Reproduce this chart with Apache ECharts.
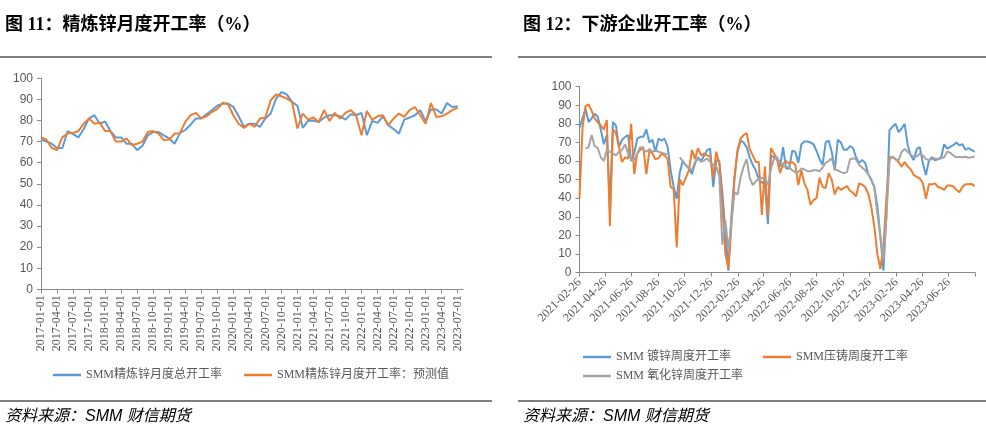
<!DOCTYPE html>
<html><head><meta charset="utf-8">
<script src="https://cdn.jsdelivr.net/npm/echarts@6/dist/echarts.min.js"></script>
<style>html,body{margin:0;padding:0;background:#fff}#c{width:986px;height:440px}</style>
</head><body><div id="c"></div>
<script>
// ---- Left chart: monthly refined zinc operating rate (%) ----
const refinedActual = [71,70,69,67,67,75,73.5,72,76,81,
82.5,78.5,79.5,75,72,72,69,69,66,68,
73,74.5,74.5,73,71.5,69,74,75.5,78,81,
81,83,85,87,88,88,86.5,82,77,78.5,
78.5,77,81,83.3,90.4,93.5,92.4,88.8,87,76.5,
79.8,80,79.3,81.4,82.5,82.5,82,80.4,83,82.5,
83.6,73,79.8,78.9,82,77.8,76,73.8,80.4,81.4,
82.5,84.9,79.7,85.2,85.2,83.3,88.3,86.4,86.8];
const refinedForecast = [72,71,67,66,72,74,74,75,78.5,81,
78.5,79,75,75,70,70,71.5,68.3,69,70,
74.6,75,73.8,70.7,71,73.8,74,79.3,82.5,83.6,
81,82,84,85.5,88.3,87.7,82.5,78.5,76.5,78.5,
77,80.9,81.4,89.6,92.3,91.5,90.4,88.8,76.2,83.3,
80.4,81.4,79.3,84.9,79.8,83.6,80.9,83.6,84.9,82.5,
73,84.5,80.4,82,82.5,77.8,80.9,83.3,81.7,84.9,
86.4,82.5,78.5,88.3,81.7,82,83.3,84.9,86.1];
// month categories 2017-01-01 ... 2023-08-01
const monthCats = [];
for (let y = 2017; y <= 2023; y++) {
  for (let m = 1; m <= 12; m++) {
    if (y === 2023 && m > 8) break;
    monthCats.push(y + '-' + String(m).padStart(2, '0') + '-01');
  }
}

// ---- Right chart: weekly downstream operating rates (%), weekly from 2021-02-26 ----
const galvanizing = [78,83,88,81,83,85.5,84,77,69,74,
35,81,79,67.6,71.5,73,74,60,64,72,
73,73,77,70,71.5,65,72,71,72,67.6,
55,46,39.6,54,60,57.7,56,53,58.6,62,
60,63,65.8,66.7,46,60.5,60,43,22,1,
31,51,65,71,70,67.5,62,58,55,50,
48.5,47.5,26,63,62,61,57,67.5,56,56,
65.5,65,59,69,70.5,70.5,70,69,65.5,61,
58,70,71,65,55,71.5,70,66,66,68,
67,62,59,60.5,59,53,50,46,36,20,
1,31,76.5,78.5,80,75.5,77.5,80,68.5,63,
60.5,66.5,67.5,58.6,52.5,60.4,62,60.4,61,62,
69,66.7,67.6,68.5,70,68.5,69,66,67,66,
65];
const dieCasting = [40,78,89.5,90.5,87,83,81,79,77,82,
25,77,75,67.6,59.5,62,61.3,80,53,64,
66,67.5,53,65.5,64,61,61.5,64,63,61,
46,45,13.5,50,47,51,55,66,61,67,
63,64,63,62.5,51,65,58.6,36,10,2,
26,51,66,72,74,75,66.5,63,59.5,59.5,
31,57,30,67,64,61.5,53.5,58.5,60,58.5,
59.5,58,47,55,48,44.5,36.5,39,40,51,
46,45.5,53.5,50,42,46,44.5,45.5,46.5,44,
43,41,48,47.3,46,42.5,35.5,25,10,2,
14,40,62,62,61,59.5,57,59.5,57,55.5,
52.5,51.5,50.5,48,39.6,47.7,47.4,48,46,45.5,
44.5,46.8,46.8,46.3,44.5,43.2,46,47.5,47.5,47.7,
46.5];
const zincOxide = [null,null,66.7,67.5,74,68,67,62,60,66,
65,64,63,65,66,69,64,61,60.5,64,
67.5,66,65,66.5,65,65.8,65,64.5,64,63.5,
null,null,null,62,60,57.7,56.4,55,59.5,61.3,
59.5,60.4,61.3,59.5,57.7,57,52,15,28,12,
27,43,42,51,57,61,51,47,49,50.5,
51,50.5,47,56,61,62,59,57,57,56.5,
55,54,54,56,55.5,54.5,54.5,55,55,54.5,
56.5,59,60,61.5,55.5,55,54,53.5,54,60.8,
61.5,61,58,56.5,55,53,50,46,32,19,
7,30,60.5,62.5,61,60.5,65,66.5,65,63.5,
62,62.5,64,63,61,60.5,61,61.3,61,61.5,
62,65,64.5,63,62,62.3,62,62.3,61.8,62,
62.5];
const rightTickLabels = ['2021-02-26','2021-04-26','2021-06-26','2021-08-26','2021-10-26','2021-12-26',
'2022-02-26','2022-04-26','2022-06-26','2022-08-26','2022-10-26','2022-12-26',
'2023-02-26','2023-04-26','2023-06-26'];
const rightAxisEnd = '2023-08-26';

function parseDay(s) { const p = s.split('-').map(Number); return new Date(p[0], p[1] - 1, p[2]).getTime(); }
function fmtDay(t) { const d = new Date(t); return d.getFullYear() + '-' + String(d.getMonth() + 1).padStart(2, '0') + '-' + String(d.getDate()).padStart(2, '0'); }
const weekDates = galvanizing.map((_, i) => new Date(2021, 1, 26 + 7 * i).getTime());
const pair = arr => arr.map((v, i) => [weekDates[i], v === null ? '-' : v]);

const axisColor = '#898989';
const labelColor = '#595959';
const serif = '"Liberation Serif","Noto Sans CJK SC"';
const legendText = { color: labelColor, fontSize: 12, fontFamily: serif };
const legendBase = { icon: 'rect', itemWidth: 28, itemHeight: 2.5, padding: 0, textStyle: legendText };
const yAxisBase = {
  type: 'value', min: 0, max: 100, interval: 10,
  axisLine: { show: true, lineStyle: { color: axisColor, width: 1 } },
  axisTick: { show: true, length: 4, lineStyle: { color: axisColor } },
  splitLine: { show: false },
  axisLabel: { color: labelColor, fontSize: 12, fontFamily: '"Liberation Sans"', margin: 8 }
};
const labelCustom = rightTickLabels.map(parseDay);
const tickCustom = labelCustom.concat([parseDay(rightAxisEnd)]);

const chart = echarts.init(document.getElementById('c'), null, { renderer: 'canvas' });
chart.setOption({
  backgroundColor: '#fff',
  animation: false,
  grid: [
    { left: 41, top: 78.3, width: 422, height: 211 },
    { left: 579.5, top: 86.7, width: 395.5, height: 185.8 }
  ],
  xAxis: [
    {
      type: 'category', gridIndex: 0, data: monthCats, boundaryGap: false,
      axisLine: { lineStyle: { color: axisColor, width: 1 } },
      axisTick: { interval: 2, length: 4, lineStyle: { color: axisColor } },
      axisLabel: { interval: 2, rotate: 90, color: labelColor, fontSize: 12, fontFamily: serif, margin: 6 },
      splitLine: { show: false }
    },
    {
      type: 'value', gridIndex: 1, min: labelCustom[0], max: parseDay(rightAxisEnd), scale: true,
      axisLine: { onZero: false, lineStyle: { color: axisColor, width: 1 } },
      axisTick: { show: true, length: 4, customValues: tickCustom, lineStyle: { color: axisColor } },
      axisLabel: { rotate: 45, color: labelColor, fontSize: 12, fontFamily: serif, margin: 8,
        customValues: labelCustom, formatter: v => fmtDay(v) },
      splitLine: { show: false }
    }
  ],
  yAxis: [
    Object.assign({ gridIndex: 0 }, yAxisBase),
    Object.assign({ gridIndex: 1 }, yAxisBase)
  ],
  legend: [
    Object.assign({ left: 53, top: 369, itemGap: 22,
      data: ['SMM精炼锌月度总开工率', 'SMM精炼锌月度开工率：预测值'] }, legendBase),
    Object.assign({ left: 583, top: 351, itemGap: 32,
      data: ['SMM 镀锌周度开工率', 'SMM压铸周度开工率'] }, legendBase),
    Object.assign({ left: 583, top: 370,
      data: ['SMM 氧化锌周度开工率'] }, legendBase)
  ],
  series: [
    { name: 'SMM精炼锌月度总开工率', type: 'line', xAxisIndex: 0, yAxisIndex: 0, data: refinedActual,
      symbol: 'none', lineStyle: { width: 2, color: '#5B9BD5' }, itemStyle: { color: '#5B9BD5' } },
    { name: 'SMM精炼锌月度开工率：预测值', type: 'line', xAxisIndex: 0, yAxisIndex: 0, data: refinedForecast,
      symbol: 'none', lineStyle: { width: 2, color: '#ED7D31' }, itemStyle: { color: '#ED7D31' } },
    { name: 'SMM 镀锌周度开工率', type: 'line', xAxisIndex: 1, yAxisIndex: 1, data: pair(galvanizing),
      symbol: 'none', lineStyle: { width: 2, color: '#5B9BD5' }, itemStyle: { color: '#5B9BD5' } },
    { name: 'SMM压铸周度开工率', type: 'line', xAxisIndex: 1, yAxisIndex: 1, data: pair(dieCasting),
      symbol: 'none', lineStyle: { width: 2, color: '#ED7D31' }, itemStyle: { color: '#ED7D31' } },
    { name: 'SMM 氧化锌周度开工率', type: 'line', xAxisIndex: 1, yAxisIndex: 1, data: pair(zincOxide),
      symbol: 'none', lineStyle: { width: 2, color: '#A5A5A5' }, itemStyle: { color: '#A5A5A5' } }
  ],
  graphic: [
    { type: 'text', left: 5, top: 16, style: { text: '图 11：精炼锌月度开工率（%）', font: 'bold 18px "Liberation Serif","Noto Sans CJK SC"', fill: '#000' } },
    { type: 'text', left: 523, top: 16, style: { text: '图 12：下游企业开工率（%）', font: 'bold 18px "Liberation Serif","Noto Sans CJK SC"', fill: '#000' } },
    { type: 'line', shape: { x1: 0, y1: 57, x2: 492, y2: 57 }, style: { stroke: '#000', lineWidth: 1.2 } },
    { type: 'line', shape: { x1: 518, y1: 57, x2: 986, y2: 57 }, style: { stroke: '#000', lineWidth: 1.2 } },
    { type: 'line', shape: { x1: 0, y1: 401, x2: 492, y2: 401 }, style: { stroke: '#000', lineWidth: 1.2 } },
    { type: 'line', shape: { x1: 518, y1: 401, x2: 986, y2: 401 }, style: { stroke: '#000', lineWidth: 1.2 } },
    { type: 'text', left: 5, top: 409, style: { text: '资料来源：SMM 财信期货', font: 'italic 16px "Liberation Sans","Noto Sans CJK SC"', fill: '#000' } },
    { type: 'text', left: 523, top: 409, style: { text: '资料来源：SMM 财信期货', font: 'italic 16px "Liberation Sans","Noto Sans CJK SC"', fill: '#000' } }
  ]
});
</script>
</body></html>
